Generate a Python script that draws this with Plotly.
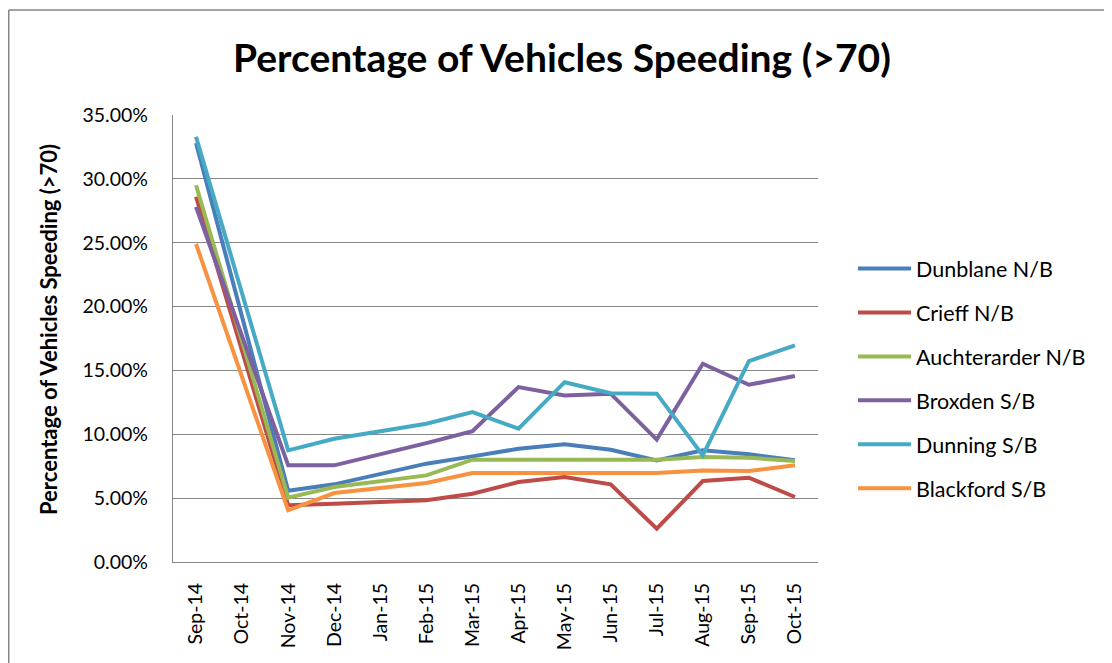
import plotly.graph_objects as go

# Meses (Oct-14 sin datos, la línea se une de Sep-14 a Nov-14)
months = ["Sep-14", "Oct-14", "Nov-14", "Dec-14", "Jan-15", "Feb-15", "Mar-15",
          "Apr-15", "May-15", "Jun-15", "Jul-15", "Aug-15", "Sep-15", "Oct-15"]

dunblane_nb = [0.328, None, 0.0558, 0.0608, 0.0692, 0.0770, 0.0827, 0.0887, 0.0921, 0.0879, 0.0796, 0.0874, 0.0843, 0.0796]
crieff_nb = [0.286, None, 0.0444, 0.0457, 0.0470, 0.0483, 0.0535, 0.0626, 0.0665, 0.0608, 0.0261, 0.0634, 0.0660, 0.0509]
auchterarder_nb = [0.295, None, 0.0504, 0.0587, 0.0634, 0.0678, 0.0801, 0.0801, 0.0801, 0.0801, 0.0801, 0.0822, 0.0817, 0.0790]
broxden_sb = [0.278, None, 0.0757, 0.0757, 0.0843, 0.0931, 0.1025, 0.1370, 0.1304, 0.1318, 0.0958, 0.1552, 0.1388, 0.1456]
dunning_sb = [0.333, None, 0.0874, 0.0965, 0.1023, 0.1083, 0.1174, 0.1044, 0.1408, 0.1322, 0.1318, 0.0835, 0.1573, 0.1696]
blackford_sb = [0.249, None, 0.0405, 0.0540, 0.0579, 0.0618, 0.0696, 0.0696, 0.0696, 0.0696, 0.0696, 0.0717, 0.0712, 0.0757]

series = [
    ("Dunblane N/B", dunblane_nb, "#4A7EBB"),
    ("Crieff N/B", crieff_nb, "#BE4B48"),
    ("Auchterarder N/B", auchterarder_nb, "#98B954"),
    ("Broxden S/B", broxden_sb, "#7D60A0"),
    ("Dunning S/B", dunning_sb, "#46AAC5"),
    ("Blackford S/B", blackford_sb, "#F69240"),
]

FONT = "Lato, 'Open Sans', sans-serif"
# la página tiene un margen de 8 px, así que todo se mide 8 px antes
W, H = 1104, 655
L, R, T, B = 165, 810, 107, 554  # bordes del área de trazado en píxeles


def px_x(p):
    return (p - L) / (R - L)


def px_y(p):
    return (B - p) / (B - T)


fig = go.Figure()
for name, vals, color in series:
    fig.add_trace(go.Scatter(
        x=months, y=vals, name=name, mode="lines",
        line=dict(color=color, width=4),
        connectgaps=True, legendgroup=name,
    ))

fig.update_layout(
    width=W, height=H,
    margin=dict(l=L, r=W - R, t=T, b=H - B),
    paper_bgcolor="white", plot_bgcolor="white",
    font=dict(family=FONT, color="black", size=19.5),
    title=dict(text="<b>Percentage of Vehicles Speeding (>70)</b>",
               x=554 / W, xanchor="center", y=1 - 50 / H, yanchor="middle",
               font=dict(family=FONT, size=39, color="black")),
    showlegend=True,
    legend=dict(x=px_x(845), y=px_y(240), xanchor="left", yanchor="top",
                font=dict(family=FONT, size=21.5, color="black"),
                itemwidth=53, tracegroupgap=13, bgcolor="rgba(0,0,0,0)"),
    xaxis=dict(type="category", range=[-0.5, 13.5], showgrid=False,
               showline=True, linecolor="#868686", linewidth=1.3,
               tickangle=-90, ticks="", ticklabelstandoff=12,
               fixedrange=True),
    yaxis=dict(range=[0, 0.35], dtick=0.05, tickformat=".2%",
               showgrid=True, gridcolor="#868686", gridwidth=1.3,
               showline=True, linecolor="#868686", linewidth=1.3,
               ticks="", ticklabelstandoff=20, zeroline=False),
    annotations=[dict(text="<b>Percentage of Vehicles Speeding (>70)</b>",
                      xref="paper", yref="paper", x=px_x(40), y=px_y(322),
                      xanchor="center", yanchor="middle",
                      textangle=-90, showarrow=False,
                      font=dict(family=FONT, size=22, color="black"))],
    shapes=[
        # borde exterior del gráfico estilo Excel
        dict(type="line", xref="paper", yref="paper",
             x0=px_x(0.75), x1=px_x(1200), y0=px_y(2), y1=px_y(2),
             line=dict(color="#868686", width=1.5)),
        dict(type="line", xref="paper", yref="paper",
             x0=px_x(0.75), x1=px_x(0.75), y0=px_y(2), y1=px_y(800),
             line=dict(color="#868686", width=1.5)),
    ],
)

fig.write_html("out.html")
